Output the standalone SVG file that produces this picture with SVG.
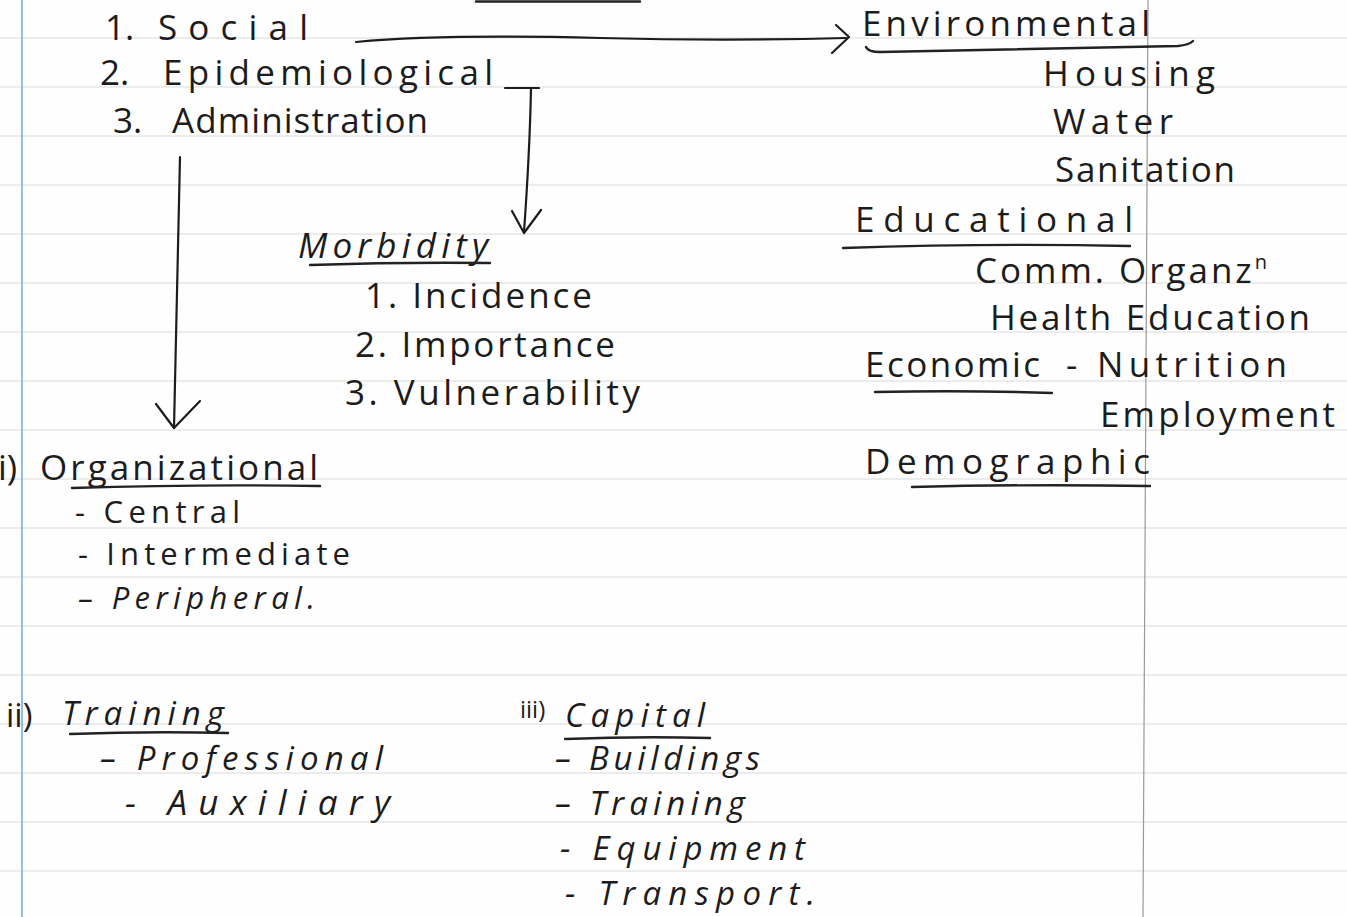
<svg xmlns="http://www.w3.org/2000/svg" width="1347" height="917" viewBox="0 0 1347 917">
  <style>
    .paper { fill: #fefefe; }
    .rule { stroke: #d9d9d9; stroke-width: 1.2; }
    .margin { stroke: #7aaee0; stroke-width: 1.6; }
    .fold { stroke: #9a9a92; stroke-width: 1.2; }
    text { font-family: "Open Sans", "DejaVu Sans", sans-serif; font-size: 35px; fill: #1c1c1c; }
    .sm { font-size: 33px; }
    .list { font-size: 31px; }
    .slant { font-style: italic; }
    .num { font-size: 24px; }
    .ink { fill: none; stroke: #1c1c1c; stroke-width: 2.2; stroke-linecap: round; stroke-linejoin: round; }
    .ul { fill: none; stroke: #222; stroke-width: 2.4; stroke-linecap: round; }
  </style>

  <!-- notebook paper -->
  <rect class="paper" x="0" y="0" width="1347" height="917"/>
  <g id="ruling">
    <line class="rule" x1="0" y1="38" x2="1347" y2="38"/>
    <line class="rule" x1="0" y1="87" x2="1347" y2="87"/>
    <line class="rule" x1="0" y1="136" x2="1347" y2="136"/>
    <line class="rule" x1="0" y1="185" x2="1347" y2="185"/>
    <line class="rule" x1="0" y1="234" x2="1347" y2="234"/>
    <line class="rule" x1="0" y1="283" x2="1347" y2="283"/>
    <line class="rule" x1="0" y1="332" x2="1347" y2="332"/>
    <line class="rule" x1="0" y1="381" x2="1347" y2="381"/>
    <line class="rule" x1="0" y1="430" x2="1347" y2="430"/>
    <line class="rule" x1="0" y1="479" x2="1347" y2="479"/>
    <line class="rule" x1="0" y1="528" x2="1347" y2="528"/>
    <line class="rule" x1="0" y1="577" x2="1347" y2="577"/>
    <line class="rule" x1="0" y1="626" x2="1347" y2="626"/>
    <line class="rule" x1="0" y1="675" x2="1347" y2="675"/>
    <line class="rule" x1="0" y1="724" x2="1347" y2="724"/>
    <line class="rule" x1="0" y1="773" x2="1347" y2="773"/>
    <line class="rule" x1="0" y1="822" x2="1347" y2="822"/>
    <line class="rule" x1="0" y1="871" x2="1347" y2="871"/>
    <line class="rule" x1="0" y1="920" x2="1347" y2="920"/>
    <line class="margin" x1="22" y1="0" x2="22" y2="917"/>
    <line class="fold" x1="1148" y1="0" x2="1143" y2="917"/>
  </g>

  <!-- tail of an underline from the previous line -->
  <path class="ul" d="M476,1.5 L640,1.5"/>

  <!-- approaches -->
  <g id="social">
    <text x="105" y="40">1.</text>
    <text x="158" y="40" textLength="150" lengthAdjust="spacing">Social</text>
  </g>
  <g id="epidemiological">
    <text x="100" y="85">2.</text>
    <text x="163" y="85" textLength="330" lengthAdjust="spacing">Epidemiological</text>
  </g>
  <g id="administration">
    <text x="113" y="133">3.</text>
    <text x="172" y="133" textLength="256" lengthAdjust="spacing">Administration</text>
  </g>

  <!-- social factors -->
  <g id="environmental">
    <text x="862" y="36" textLength="288" lengthAdjust="spacing">Environmental</text>
    <path class="ul" d="M866,47 Q868,52 880,52 Q1030,49 1178,46 Q1189,45 1193,41"/>
    <text x="1043" y="86" textLength="172" lengthAdjust="spacing">Housing</text>
    <text x="1053" y="134" textLength="120" lengthAdjust="spacing">Water</text>
    <text x="1055" y="182" textLength="180" lengthAdjust="spacing">Sanitation</text>
  </g>
  <g id="educational">
    <text x="855" y="232" textLength="278" lengthAdjust="spacing">Educational</text>
    <path class="ul" d="M843,248 Q990,243 1130,246"/>
    <text x="975" y="283" textLength="292" lengthAdjust="spacing">Comm. Organz<tspan font-size="20" dy="-14">n</tspan></text>
    <text x="990" y="330" textLength="320" lengthAdjust="spacing">Health Education</text>
  </g>
  <g id="economic">
    <text x="865" y="377" textLength="175" lengthAdjust="spacing">Economic</text>
    <path class="ul" d="M875,392 Q965,390 1052,393"/>
    <text x="1066" y="377" textLength="221" lengthAdjust="spacing">- Nutrition</text>
    <text x="1100" y="427" textLength="235" lengthAdjust="spacing">Employment</text>
  </g>
  <g id="demographic">
    <text x="865" y="474" textLength="285" lengthAdjust="spacing">Demographic</text>
    <path class="ul" d="M912,487 Q1030,484 1150,486"/>
  </g>

  <!-- epidemiological criteria -->
  <g id="morbidity">
    <text class="slant" x="298" y="258" textLength="190" lengthAdjust="spacing">Morbidity</text>
    <path class="ul" d="M310,265 Q400,262 490,263"/>
    <text x="365" y="308" textLength="227" lengthAdjust="spacing">1. Incidence</text>
    <text x="355" y="357" textLength="260" lengthAdjust="spacing">2. Importance</text>
    <text x="345" y="405" textLength="295" lengthAdjust="spacing">3. Vulnerability</text>
  </g>

  <!-- administrative resources -->
  <g id="organizational">
    <text x="-2" y="480">i)</text>
    <text x="40" y="480" textLength="278" lengthAdjust="spacing">Organizational</text>
    <path class="ul" d="M72,488 Q200,484 320,486"/>
    <text class="list" x="75" y="523" textLength="165" lengthAdjust="spacing">- Central</text>
    <text class="list" x="78" y="565" textLength="272" lengthAdjust="spacing">- Intermediate</text>
    <text class="list slant" x="78" y="609" textLength="237" lengthAdjust="spacing">– Peripheral.</text>
  </g>
  <g id="training">
    <text class="sm" x="6" y="727">ii)</text>
    <text class="sm slant" x="62" y="725" textLength="162" lengthAdjust="spacing">Training</text>
    <path class="ul" d="M70,734 Q150,731 228,733"/>
    <text class="sm slant" x="100" y="770" textLength="283" lengthAdjust="spacing">– Professional</text>
    <text class="slant" x="125" y="815" textLength="265" lengthAdjust="spacing">- Auxiliary</text>
  </g>
  <g id="capital">
    <text class="num" x="520" y="718">iii)</text>
    <text class="sm slant" x="565" y="727" textLength="140" lengthAdjust="spacing">Capital</text>
    <path class="ul" d="M565,739 Q640,736 710,738"/>
    <text class="sm slant" x="555" y="770" textLength="205" lengthAdjust="spacing">– Buildings</text>
    <text class="sm slant" x="555" y="815" textLength="190" lengthAdjust="spacing">– Training</text>
    <text class="sm slant" x="560" y="860" textLength="245" lengthAdjust="spacing">- Equipment</text>
    <text class="sm slant" x="565" y="905" textLength="250" lengthAdjust="spacing">- Transport.</text>
  </g>

  <!-- connectors -->
  <g id="connectors">
    <path class="ink" d="M356,42 C430,35 520,36 600,38 S770,40 846,38"/>
    <path class="ink" d="M836,25 L849,37 L832,53"/>
    <path class="ink" d="M505,88 L539,88 M531,88 C530,140 527,190 524,232"/>
    <path class="ink" d="M512,211 L524,233 L541,210"/>
    <path class="ink" d="M180,157 C178,250 176,340 174,428"/>
    <path class="ink" d="M156,404 L174,428 L200,401"/>
  </g>
</svg>
